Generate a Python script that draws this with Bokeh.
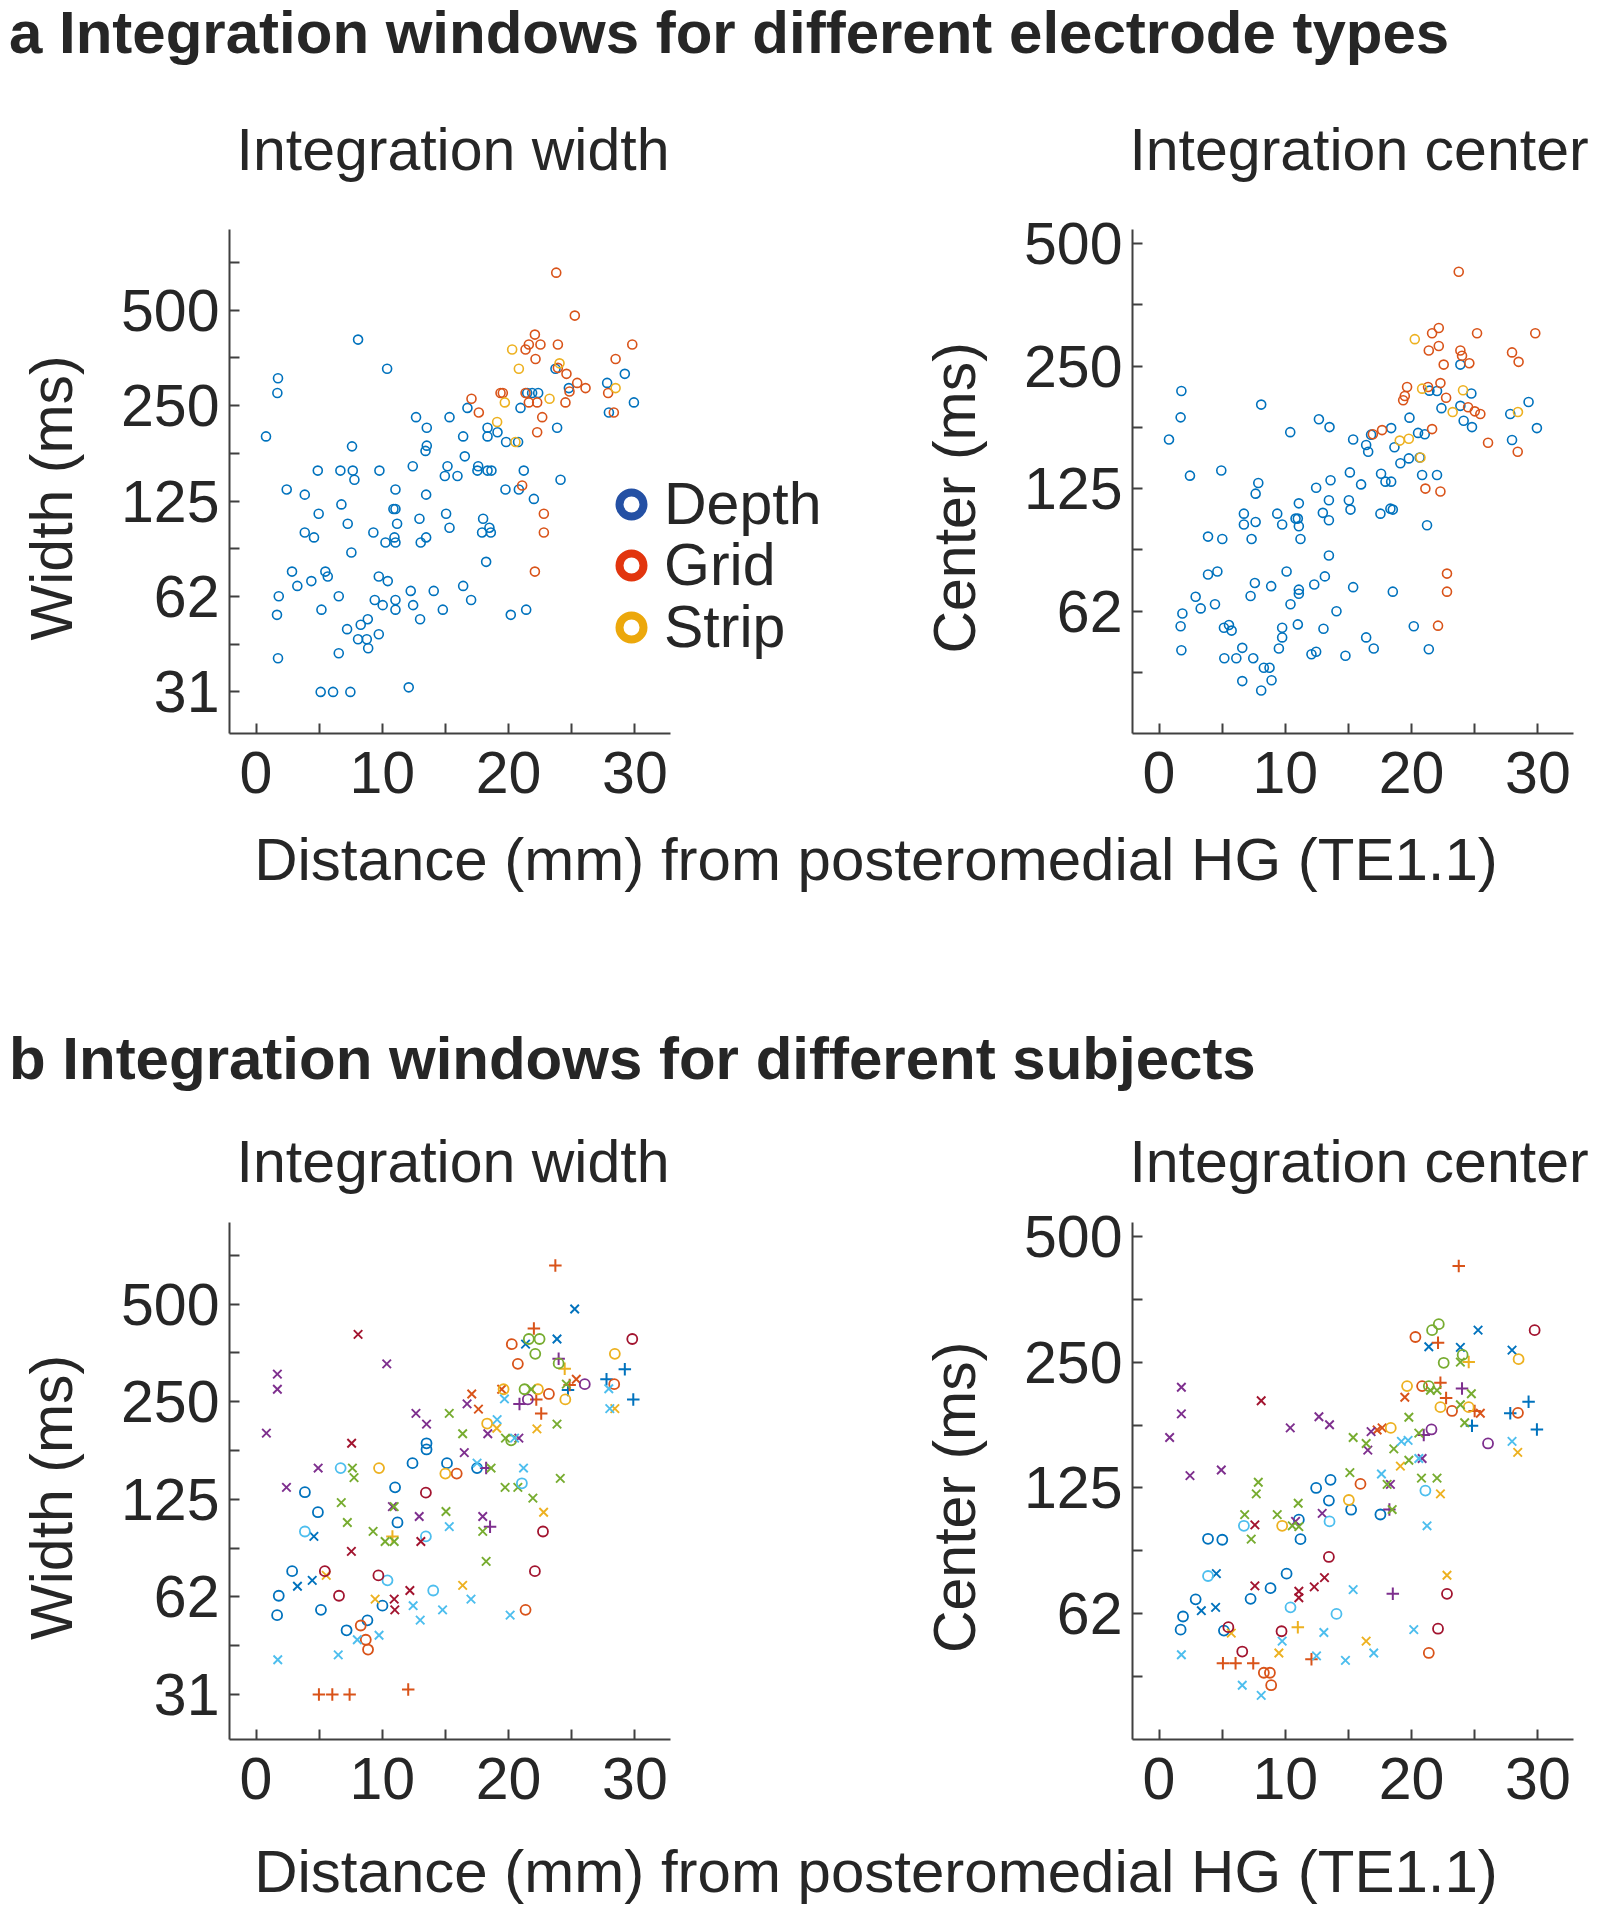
from bokeh.plotting import figure
from bokeh.models import Range1d, FixedTicker, CustomJSTickFormatter, Legend, LegendItem, ColumnDataSource
from bokeh.layouts import column, row
from bokeh.embed import file_html
from bokeh.resources import INLINE
from bokeh.core.properties import value

FONT = "Liberation Sans"
TXT = "#262626"
AXC = "#404040"
NBSP = "\u00a0"

# ---------------- tick definitions ----------------
x_tick_values = [0, 5, 10, 15, 20, 25, 30]
x_tick_labels = ["0", "", "10", "", "20", "", "30"]
y_tick_values = [31.25, 44.194, 62.5, 88.388, 125, 176.777, 250, 353.553, 500, 707.107]
y_tick_labels = ["31", "", "62", "", "125", "", "250", "", "500", ""]
x_axis_extent = (-2.1, 32.8)

# ---------------- panel a: integration width (distance mm, width ms) ----------------
aw_depth = [
    (8.08, 404), (10.38, 327), (1.74, 305), (1.69, 274), (0.79, 200), (7.6, 186), (12.67, 230), (13.52, 213),
    (15.32, 230), (16.74, 246), (16.4, 200), (13.52, 187), (13.42, 180), (16.53, 173), (12.41, 161), (15.16, 161),
    (14.95, 150), (15.95, 150), (17.59, 161), (17.53, 156), (18.33, 156), (18.64, 156), (18.33, 213), (18.33, 200),
    (19.12, 206), (19.8, 192), (20.75, 192), (20.94, 246), (21.47, 274), (21.86, 274), (22.34, 274), (21.2, 156),
    (23.84, 213), (24.11, 146), (23.71, 327), (24.77, 284), (29.2, 315), (27.8, 295), (27.94, 238), (29.92, 256),
    (19.75, 136), (20.81, 136), (22.0, 127), (4.89, 156), (6.68, 156), (7.66, 156), (7.79, 146), (9.77, 156),
    (2.43, 136), (3.86, 131), (11.04, 136), (13.47, 131), (6.76, 122), (4.96, 114), (7.26, 106), (10.88, 118),
    (11.04, 118), (11.17, 106), (12.94, 110), (15.05, 114), (15.32, 103), (3.86, 99.5), (4.59, 96), (9.29, 99.5),
    (10.25, 92.5), (11.04, 92.5), (10.96, 96), (13.04, 92.5), (13.47, 96), (7.55, 86), (17.98, 110), (18.48, 103),
    (17.9, 99.5), (18.59, 99.5), (18.22, 80.4), (2.85, 74.9), (3.27, 67.5), (4.38, 69.9), (5.49, 74.9), (5.68, 72.3),
    (1.8, 62.6), (1.66, 54.7), (1.74, 39.9), (5.18, 56.8), (6.55, 62.6), (6.55, 41.4), (7.21, 49.3), (8.08, 45.8),
    (8.29, 50.9), (8.85, 53), (8.77, 45.8), (8.88, 42.9), (9.72, 47.5), (9.72, 72.3), (10.43, 69.9), (9.4, 60.9),
    (10.03, 58.7), (11.04, 60.9), (11.04, 56.8), (12.25, 65.1), (12.44, 58.7), (12.99, 53), (14.07, 65.1),
    (14.79, 56.8), (16.4, 67.5), (17.03, 60.9), (20.17, 54.7), (21.39, 56.8), (5.12, 31.25), (6.1, 31.25),
    (7.47, 31.25), (12.09, 32.3)]
aw_grid = [
    (23.77, 657), (25.24, 481), (22.08, 419), (21.6, 390), (21.34, 376), (22.52, 390), (23.9, 390), (29.79, 390),
    (22.13, 351), (28.47, 351), (23.9, 329), (24.58, 315), (25.43, 295), (26.09, 284), (24.82, 277), (24.5, 256),
    (27.88, 274), (28.33, 238), (19.36, 274), (19.54, 274), (21.34, 274), (21.6, 256), (22.26, 256), (17.06, 263),
    (17.64, 238), (22.66, 230), (22.26, 206), (21.07, 140), (22.79, 114), (22.79, 99.5), (22.08, 74.9)]
aw_strip = [(20.28, 376), (20.81, 327), (24.03, 340), (19.7, 256), (23.24, 263), (28.47, 284), (19.09, 222), (20.54, 192)]

# ---------------- panel a: integration center (distance mm, center ms) ----------------
ac_depth = [
    (1.77, 217), (1.71, 187), (0.79, 165), (8.09, 201), (10.39, 172), (12.66, 185), (13.5, 177), (2.45, 134.5),
    (4.93, 138.5), (7.86, 129), (7.65, 121.5), (6.72, 108.5), (6.72, 102), (7.65, 103.5), (9.36, 108.5), (9.75, 102),
    (10.81, 105.5), (10.99, 105.5), (11.07, 115), (11.07, 101), (11.2, 94), (7.33, 94), (3.88, 95.3), (5.01, 94),
    (12.44, 125.6), (13.58, 131), (12.97, 109), (13.45, 117), (13.45, 104.5), (15.03, 117), (15.16, 111),
    (15.11, 137), (16.0, 128), (17.58, 136), (17.93, 130), (18.38, 130), (17.53, 108.5), (18.32, 111.6),
    (18.51, 111), (15.37, 165), (16.4, 160), (16.56, 154), (16.79, 169.6), (18.38, 176), (18.64, 158),
    (19.11, 144.3), (19.78, 148.3), (19.83, 186.7), (20.51, 171.3), (21.04, 170), (20.83, 135), (22.01, 135),
    (21.22, 101.6), (20.64, 149), (21.41, 217.5), (22.01, 217), (22.36, 197), (23.86, 252), (23.86, 199.6),
    (24.12, 183.5), (24.73, 214), (24.78, 177), (27.81, 190.6), (27.95, 164.6), (29.26, 204), (29.92, 176),
    (18.51, 69.8), (13.45, 85.6), (3.88, 76.9), (4.62, 78.2), (2.9, 67.8), (3.3, 63.5), (4.43, 65), (1.85, 61.7),
    (1.71, 57.4), (1.77, 50.1), (5.14, 56.9), (5.54, 57.8), (5.75, 56), (5.17, 47.9), (6.12, 47.9), (6.59, 50.8),
    (6.59, 42.1), (7.46, 47.9), (7.59, 73.3), (7.25, 68.1), (8.88, 72), (8.3, 45.4), (8.75, 45.4), (8.09, 39.9),
    (8.91, 42.3), (9.49, 50.6), (9.75, 53.9), (9.75, 56.9), (10.1, 78.2), (10.41, 65), (10.99, 58), (11.07, 70.6),
    (11.07, 69), (12.07, 49), (12.44, 49.7), (12.29, 72.7), (13.13, 76.1), (13.02, 56.6), (14.05, 62.5),
    (15.37, 71.6), (14.76, 48.6), (16.4, 53.9), (17.0, 50.6), (20.17, 57.4), (21.36, 50.4)]
ac_grid = [
    (23.73, 426), (21.62, 301), (22.15, 310), (21.36, 273), (22.15, 280), (25.18, 301), (29.79, 301), (23.86, 273),
    (23.99, 265), (24.57, 254), (22.54, 252), (27.95, 270), (28.47, 256), (19.64, 222), (19.46, 211), (19.33, 206),
    (21.3, 222), (22.28, 227), (22.73, 209), (24.47, 198), (25.0, 193.5), (25.44, 190.6), (16.93, 170), (17.66, 174),
    (21.62, 175), (26.05, 162), (28.4, 154), (21.09, 125), (22.28, 123), (22.8, 77.3), (22.8, 69.8), (22.09, 57.6)]
ac_strip = [(20.25, 291), (20.83, 220), (24.07, 218), (23.25, 192.7), (28.42, 192.7), (19.06, 164), (19.78, 165.7), (20.7, 149)]

# ---------------- panel b: width by subject (colour letter + marker) ----------------
bw_Bo = [(13.5, 186), (13.5, 178), (12.39, 161.5), (15.12, 161.5), (17.5, 156), (11.01, 136), (11.2, 106), (3.87, 131.4),
         (4.9, 114), (2.86, 75), (1.8, 63), (1.67, 54.9), (5.14, 57), (7.17, 49.3), (8.82, 52.9), (10.01, 58.7)]
bw_Bx = [(25.23, 482.6), (21.34, 376), (23.83, 390), (4.58, 96), (3.28, 67.4), (4.45, 70.3)]
bw_Bp = [(24.7, 271.7), (27.75, 293), (29.2, 314.6), (29.87, 254)]
bw_Oo = [(20.25, 376), (20.73, 327), (28.36, 283), (23.19, 264), (15.89, 150), (21.34, 57), (8.29, 51), (8.69, 46.1), (8.87, 43)]
bw_Ox = [(25.36, 293), (19.45, 273), (17.08, 264), (17.61, 237)]
bw_Op = [(23.7, 657), (22.0, 420), (24.83, 281.5), (22.19, 254), (22.58, 230), (4.98, 31.25), (6.04, 31.25), (7.41, 31.25), (12.05, 32.4)]
bw_Yo = [(28.41, 351), (19.6, 273), (22.32, 273), (24.49, 254), (18.3, 214), (14.99, 150), (9.74, 156)]
bw_Yx = [(28.41, 238), (22.24, 206), (19.06, 207), (22.77, 114), (16.36, 67.8), (5.56, 72.8), (9.43, 61.5)]
bw_Yp = [(24.44, 316), (10.8, 96)]
bw_Po = [(26.03, 283), (21.52, 254)]
bw_Px = [(16.71, 246), (12.66, 230), (13.5, 213), (18.35, 199), (20.81, 193), (0.82, 200), (1.69, 304), (1.69, 273),
         (10.35, 327), (16.49, 174), (17.95, 110.6), (12.92, 110.6), (10.8, 118.6), (4.92, 156), (2.41, 136)]
bw_Pp = [(23.96, 339), (20.86, 246), (18.22, 156), (18.53, 102.9)]
bw_Go = [(21.6, 390), (22.45, 390), (22.11, 351), (23.96, 328), (21.26, 273), (20.2, 190)]
bw_Gx = [(24.57, 283), (21.79, 273), (23.83, 213), (15.3, 230), (16.36, 199), (19.75, 193), (18.61, 156), (24.09, 145),
         (19.72, 136), (20.73, 136), (21.92, 126), (18.22, 80.4), (17.95, 99.5), (15.04, 114.6), (10.94, 118.6),
         (10.22, 92.6), (10.94, 92.6), (9.27, 99.5), (7.23, 106), (6.75, 122), (7.76, 145.8), (7.63, 156)]
bw_Co = [(21.05, 140), (14.03, 65.4), (13.45, 96), (6.7, 156), (3.87, 99.4), (10.41, 70.3)]
bw_Cx = [(27.93, 274), (28.01, 238), (19.67, 254.8), (19.09, 220), (20.47, 193), (17.5, 161.5), (21.18, 156),
         (20.12, 54.9), (17.02, 61.5), (14.77, 57), (15.3, 102.9), (1.72, 40), (6.51, 41.4), (8.02, 46.1),
         (9.74, 47.6), (12.44, 58.7), (13.0, 53)]
bw_Ro = [(29.79, 390), (13.45, 131), (22.72, 99.4), (22.08, 75), (5.45, 75), (6.57, 63), (9.69, 72.8)]
bw_Rx = [(8.08, 403), (7.57, 186), (13.05, 92.6), (7.55, 86.3), (10.94, 61.5), (10.99, 57), (12.18, 65.4)]

# ---------------- panel b: center by subject ----------------
bc_Bo = [(12.44, 125), (13.58, 130.7), (13.45, 116.6), (15.21, 110.9), (17.53, 108), (11.07, 105), (11.2, 94.3),
         (3.88, 94.5), (5.01, 94), (2.9, 67.7), (1.9, 61.6), (1.71, 57.3), (5.14, 57), (10.1, 78), (8.83, 72), (7.25, 67.9)]
bc_Bx = [(25.26, 298), (21.36, 272), (23.86, 271), (27.95, 267), (4.54, 78), (3.35, 63.6), (4.48, 64.8)]
bc_Bp = [(24.78, 176), (27.81, 188.6), (29.26, 201), (29.92, 172.5)]
bc_Oo = [(20.3, 287), (20.83, 219), (23.2, 191), (28.42, 189), (15.95, 127.8), (21.36, 50.4), (8.3, 45.2), (8.78, 45.2), (8.88, 42.2)]
bc_Ox = [(19.46, 206), (25.44, 188.6), (17.27, 172), (17.66, 174)]
bc_Op = [(23.73, 424), (22.09, 278), (22.28, 223), (22.73, 205), (24.99, 191), (5.06, 47.6), (6.06, 47.6), (7.46, 47.6), (12.07, 48.7)]
bc_Yo = [(28.47, 254), (19.64, 219), (22.28, 195), (24.52, 195), (18.35, 174), (15.03, 117), (9.75, 101.5)]
bc_Yx = [(28.4, 152), (19.11, 141), (22.28, 121), (22.8, 77.3), (16.4, 53.8), (9.49, 50.4), (5.72, 56.2)]
bc_Yp = [(24.52, 250), (10.99, 58.1)]
bc_Po = [(26.05, 159.7), (21.57, 172.5)]
bc_Px = [(1.77, 217.6), (1.77, 188), (0.84, 165), (2.45, 133.8), (4.93, 138), (10.39, 174), (12.66, 185), (13.5, 177),
         (16.53, 154), (16.79, 170.4), (20.83, 147), (18.32, 127.5), (12.92, 108.7), (10.81, 104)]
bc_Pp = [(23.99, 216), (20.96, 167.3), (18.24, 111), (18.51, 69.8)]
bc_Go = [(22.15, 308), (21.62, 298), (24.04, 260), (22.54, 249), (21.36, 219)]
bc_Gx = [(23.86, 250), (21.49, 214), (22.01, 214), (24.73, 210), (23.86, 197.6), (24.2, 179), (19.78, 184.5),
         (20.57, 169), (18.59, 155), (19.78, 145.6), (20.78, 132), (22.01, 132), (15.37, 165), (16.4, 159.7),
         (15.11, 136), (18.06, 127.5), (18.46, 111), (11.02, 114.9), (10.55, 101.5), (11.07, 101), (9.36, 107.9),
         (7.86, 129), (7.7, 121), (6.78, 107.9), (7.3, 94.3)]
bc_Co = [(21.09, 123.2), (13.5, 104), (6.72, 101.5), (3.88, 77), (10.41, 64.8), (14.05, 62.5)]
bc_Cx = [(27.95, 161.6), (19.19, 161.6), (19.72, 162.5), (20.57, 147), (17.61, 135), (21.22, 101.5), (1.77, 49.9),
         (6.59, 42.2), (8.09, 39.9), (9.75, 53.8), (13.05, 56.4), (12.47, 49.6), (14.76, 48.4), (15.37, 71.4),
         (17.0, 50.4), (20.17, 57.3)]
bc_Ro = [(29.74, 298), (13.45, 85.5), (5.49, 58.1), (6.59, 50.8), (9.7, 56.8), (22.09, 57.6), (22.8, 69.8)]
bc_Rx = [(8.09, 202), (7.59, 102), (11.07, 70.8), (11.07, 68.3), (12.29, 72.5), (13.1, 76.3), (7.59, 72.9)]

legend_labels = ["Depth", "Grid", "Strip"]

# ---------------- styles ----------------
TYPE_COLORS = {"Depth": "#0072BD", "Grid": "#D95319", "Strip": "#EDB120"}
LEGEND_COLORS = {"Depth": "#2450A4", "Grid": "#E2350E", "Strip": "#ECA80C"}
LEGEND_OFFSETS = {"Depth": 195, "Grid": 134, "Strip": 72}   # px above frame bottom (layout)
SUBJ_COLORS = {"B": "#0072BD", "O": "#D95319", "Y": "#EDB120", "P": "#7E2F8E",
               "G": "#77AC30", "C": "#4DBEEE", "R": "#A2142F"}
SUBJ_MARKERS = {"o": ("circle", 10, 1.8), "x": ("x", 12, 1.9), "p": ("cross", 12.5, 2.0)}

FMT = """
for (let i = 0; i < vals.length; i++) {
  if (Math.abs(tick - vals[i]) <= 1e-4 * Math.max(1, Math.abs(vals[i]))) { return labs[i]; }
}
return "";
"""

PX_PER_MM = 12.63


def panel(width, mbl, mbr, mbt, fh, mbb, yr, ylabel):
    fw = width - mbl - mbr
    x_end = x_axis_extent[0] + fw / PX_PER_MM
    p = figure(width=width, height=mbt + fh + mbb, x_range=Range1d(x_axis_extent[0], x_end),
               y_range=Range1d(*yr), y_axis_type="log", output_backend="svg",
               toolbar_location=None, title=None,
               min_border_left=mbl, min_border_right=mbr, min_border_top=mbt, min_border_bottom=mbb)
    p.outline_line_color = None
    p.grid.visible = False
    p.background_fill_color = "white"
    p.border_fill_color = "white"
    p.xaxis.ticker = FixedTicker(ticks=x_tick_values)
    p.xaxis.formatter = CustomJSTickFormatter(args=dict(vals=x_tick_values, labs=x_tick_labels), code=FMT)
    p.xaxis.bounds = x_axis_extent
    p.yaxis.ticker = FixedTicker(ticks=y_tick_values)
    p.yaxis.formatter = CustomJSTickFormatter(args=dict(vals=y_tick_values, labs=y_tick_labels), code=FMT)
    for ax in (p.xaxis[0], p.yaxis[0]):
        ax.axis_line_color = AXC
        ax.axis_line_width = 2
        ax.major_tick_line_color = AXC
        ax.major_tick_line_width = 2
        ax.major_tick_in = 10
        ax.major_tick_out = 0
        ax.minor_tick_line_color = None
        ax.major_label_text_font = FONT
        ax.major_label_text_font_size = "59px"
        ax.major_label_text_color = TXT
    p.xaxis.major_label_standoff = 18
    p.yaxis.major_label_standoff = 10
    p.yaxis.axis_label = ylabel + NBSP + NBSP
    p.yaxis.axis_label_text_font = FONT
    p.yaxis.axis_label_text_font_size = "59px"
    p.yaxis.axis_label_text_font_style = "normal"
    p.yaxis.axis_label_text_color = TXT
    p.yaxis.axis_label_standoff = 33
    return p


def draw_types(p, groups):
    for name, pts in groups:
        src = ColumnDataSource(dict(x=[a for a, b in pts], y=[b for a, b in pts]))
        p.scatter("x", "y", source=src, marker="circle", size=9, line_width=1.6,
                  line_color=TYPE_COLORS[name], fill_color=None)


def draw_subjects(p, groups):
    for code, pts in groups:
        mk, sz, lw = SUBJ_MARKERS[code[1]]
        src = ColumnDataSource(dict(x=[a for a, b in pts], y=[b for a, b in pts]))
        p.scatter("x", "y", source=src, marker=mk, size=sz, line_width=lw,
                  line_color=SUBJ_COLORS[code[0]], fill_color=None)


TW = 1598


def text_fig(h):
    p = figure(width=TW, height=h, x_range=Range1d(0, TW), y_range=Range1d(0, h),
               output_backend="svg", toolbar_location=None, title=None, min_border=0,
               x_axis_location=None, y_axis_location=None)
    p.outline_line_color = None
    p.grid.visible = False
    p.background_fill_color = "white"
    p.border_fill_color = "white"
    return p


def add_text(p, x, y, s, size, align="left", bold=False):
    p.text(x=[x], y=[y], text=[s], text_font=value(FONT), text_font_size=size,
           text_font_style="bold" if bold else "normal", text_align=align,
           text_baseline="alphabetic", text_color=TXT)


# ---------------- row A ----------------
pA1 = panel(880, 229, 10, 40, 504, 90, (23.1, 899), "Width (ms)")
pA2 = panel(718, 252, 24, 40, 504, 90, (31.3, 541), "Center (ms)")
draw_types(pA1, [("Depth", aw_depth), ("Grid", aw_grid), ("Strip", aw_strip)])
draw_types(pA2, [("Depth", ac_depth), ("Grid", ac_grid), ("Strip", ac_strip)])

for name in legend_labels:
    src = ColumnDataSource(dict(x=[float("nan")], y=[float("nan")]))
    r = pA1.scatter("x", "y", source=src, marker="circle", size=24, line_width=8,
                    line_color=LEGEND_COLORS[name], fill_color=None)
    lg = Legend(items=[LegendItem(label=name, renderers=[r])], location=(372, LEGEND_OFFSETS[name]),
                glyph_width=60, glyph_height=68, label_height=68,
                label_text_font=FONT, label_text_font_size="59px", label_text_color=TXT,
                label_text_line_height=1.0, label_standoff=3, spacing=0, padding=0, margin=0,
                border_line_color=None, background_fill_alpha=0)
    pA1.add_layout(lg)

# ---------------- row B ----------------
pB1 = panel(880, 229, 10, 23, 517, 90, (22.7, 892), "Width (ms)")
pB2 = panel(718, 252, 24, 23, 517, 90, (31.3, 539), "Center (ms)")
draw_subjects(pB1, [("Bo", bw_Bo), ("Bx", bw_Bx), ("Bp", bw_Bp), ("Oo", bw_Oo), ("Ox", bw_Ox), ("Op", bw_Op),
                    ("Yo", bw_Yo), ("Yx", bw_Yx), ("Yp", bw_Yp), ("Po", bw_Po), ("Px", bw_Px), ("Pp", bw_Pp),
                    ("Go", bw_Go), ("Gx", bw_Gx), ("Co", bw_Co), ("Cx", bw_Cx), ("Ro", bw_Ro), ("Rx", bw_Rx)])
draw_subjects(pB2, [("Bo", bc_Bo), ("Bx", bc_Bx), ("Bp", bc_Bp), ("Oo", bc_Oo), ("Ox", bc_Ox), ("Op", bc_Op),
                    ("Yo", bc_Yo), ("Yx", bc_Yx), ("Yp", bc_Yp), ("Po", bc_Po), ("Px", bc_Px), ("Pp", bc_Pp),
                    ("Go", bc_Go), ("Gx", bc_Gx), ("Co", bc_Co), ("Cx", bc_Cx), ("Ro", bc_Ro), ("Rx", bc_Rx)])

# ---------------- text rows ----------------
XLABEL = "Distance (mm) from posteromedial HG (TE1.1)"
top = text_fig(189)
add_text(top, 8.5, 157, "a Integration windows for different electrode types", "60px", bold=True)
add_text(top, 452.5, 40, "Integration width", "59px", align="center")
add_text(top, 1358.5, 40, "Integration center", "59px", align="center")

mid = text_fig(376)
add_text(mid, 875.5, 340, XLABEL, "60px", align="center")
add_text(mid, 8.5, 141, "b Integration windows for different subjects", "60px", bold=True)
add_text(mid, 452.5, 38, "Integration width", "59px", align="center")
add_text(mid, 1358.5, 38, "Integration center", "59px", align="center")

bot = text_fig(80)
add_text(bot, 875.5, 38, XLABEL, "60px", align="center")

layout = column(top, row(pA1, pA2), mid, row(pB1, pB2), bot)
open("out.html", "w").write(file_html(layout, INLINE))
